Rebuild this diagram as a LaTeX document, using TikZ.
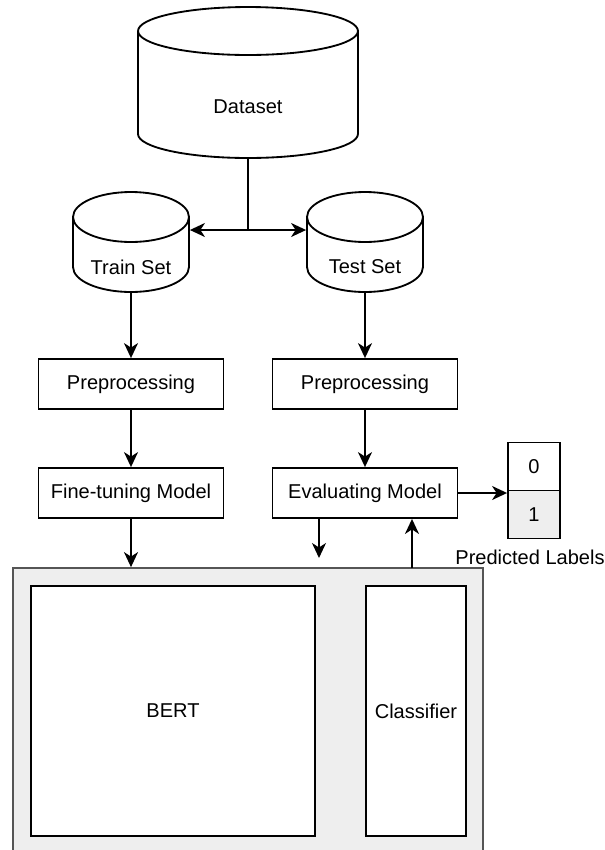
\documentclass[tikz,border=0pt]{standalone}
\usepackage{fontspec}
\setmainfont{Liberation Sans}
\usetikzlibrary{arrows.meta}
\definecolor{panel}{HTML}{EEEEEE}
\definecolor{panelline}{HTML}{555555}

\begin{document}
\begin{tikzpicture}[x=0.02cm,y=-0.02cm,line width=1.05pt,
  >={Stealth[length=3mm,width=2.8mm,inset=0.9mm]},
  font=\fontsize{11.4}{13}\selectfont,
  box/.style={draw,fill=white,minimum width=3.7cm,minimum height=1cm,inner sep=0pt},
  cell/.style={draw,minimum width=1.04cm,minimum height=0.96cm,inner sep=0pt},
  dbspace/.style={inner sep=0pt}]
\useasboundingbox (0,0) rectangle (605,850);

% data stores
\draw (138,31) -- (138,134) arc[start angle=180,end angle=360,x radius=2.2cm,y radius=0.48cm] -- (358,31);
\draw (248,31) ellipse [x radius=2.2cm,y radius=0.48cm];
\node[dbspace,minimum width=4.4cm,minimum height=3.02cm] (dataset) at (248,82.5) {};
\node (datasettext) at (248,107) {Dataset};

\draw (73,217) -- (73,267) arc[start angle=180,end angle=360,x radius=1.16cm,y radius=0.5cm] -- (189,217);
\draw (131,217) ellipse [x radius=1.16cm,y radius=0.5cm];
\node[dbspace,minimum width=2.32cm,minimum height=2cm] (trainset) at (131,242) {};
\node (traintext) at (131,267) {Train Set};

\draw (307,217) -- (307,267) arc[start angle=180,end angle=360,x radius=1.16cm,y radius=0.5cm] -- (423,217);
\draw (365,217) ellipse [x radius=1.16cm,y radius=0.5cm];
\node[dbspace,minimum width=2.32cm,minimum height=2cm] (testset) at (365,242) {};
\node (testtext) at (365,267) {Test Set};

% steps
\node[box] (prepL) at (131,384) {Preprocessing};
\node[box] (prepR) at (365,384) {Preprocessing};
\node[box] (finetune) at (131,493) {Fine-tuning Model};
\node[box] (evaluate) at (365,493) {Evaluating Model};

% output labels
\node[cell] (zero) at (534,466.5) {0};
\node[cell,fill=panel] (one) at (534,514.5) {1};
\node (predicted) at (530,557) {Predicted Labels};

% model
\node[draw=panelline,fill=panel,minimum width=9.4cm,minimum height=5.74cm,inner sep=0pt] (model) at (248,711.5) {};
\node[draw,fill=white,minimum width=5.68cm,minimum height=5cm,inner sep=0pt] (bert) at (173,711) {BERT};
\node[draw,fill=white,minimum width=2cm,minimum height=5cm,inner sep=0pt] (classifier) at (416,711) {Classifier};

\coordinate (split) at (248,230);
\coordinate (evaldown) at (319,558);
\coordinate (evalup) at (412,568);

\draw (dataset.south) -- (split);
\draw[->] (split) -- (split -| trainset.east);
\draw[->] (split) -- (split -| testset.west);
\draw[->] (trainset.south) -- (prepL.north);
\draw[->] (testset.south) -- (prepR.north);
\draw[->] (prepL.south) -- (finetune.north);
\draw[->] (prepR.south) -- (evaluate.north);
\draw[->] (finetune.south) -- (finetune.south |- model.north);
\draw[->] (evaluate.south -| evaldown) -- (evaldown);
\draw[->] (evalup) -- (evalup |- evaluate.south);
\draw[->] (evaluate.east) -- (evaluate.east -| zero.west);
\end{tikzpicture}
\end{document}
